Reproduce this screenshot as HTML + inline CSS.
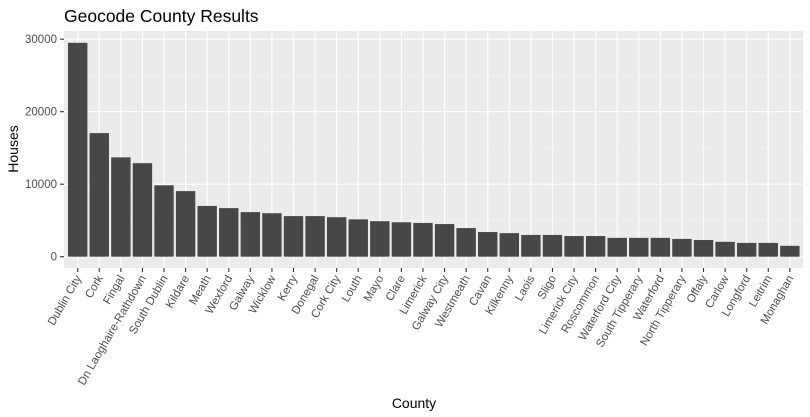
<!DOCTYPE html>
<html><head><meta charset="utf-8"><style>
body{margin:0;background:#fff;}
svg{display:block;font-family:"Liberation Sans",Arial,sans-serif;}
</style></head><body>
<svg id="s" width="810" height="417" viewBox="0 0 810 417" xmlns="http://www.w3.org/2000/svg">
<rect x="0" y="0" width="810" height="417" fill="#fff"/>
<text x="64" y="22" font-size="17.5" fill="#000">Geocode County Results</text>
<rect x="64" y="31" width="739" height="237" fill="#ebebeb"/>
<g id="grid"></g>
<g id="bars"></g>
<g id="axes"></g>
<text x="414" y="408" font-size="14" text-anchor="middle" fill="#000">County</text>
<text transform="translate(18,149) rotate(-90)" font-size="14" text-anchor="middle" fill="#000">Houses</text>
</svg>
<script>
var d=[["Dublin City",29500],["Cork",17050],["Fingal",13700],["Dn Laoghaire-Rathdown",12900],["South Dublin",9850],["Kildare",9050],["Meath",7000],["Wexford",6700],["Galway",6150],["Wicklow",6000],["Kerry",5600],["Donegal",5600],["Cork City",5450],["Louth",5150],["Mayo",4900],["Clare",4750],["Limerick",4650],["Galway City",4500],["Westmeath",3950],["Cavan",3400],["Kilkenny",3250],["Laois",3000],["Sligo",3000],["Limerick City",2850],["Roscommon",2850],["Waterford City",2600],["South Tipperary",2600],["Waterford",2600],["North Tipperary",2450],["Offaly",2300],["Carlow",2050],["Longford",1900],["Leitrim",1900],["Monaghan",1500]];
var NS="http://www.w3.org/2000/svg";
function el(p,t,a,txt){var e=document.createElementNS(NS,t);for(var k in a)e.setAttribute(k,a[k]);if(txt)e.textContent=txt;document.getElementById(p).appendChild(e);return e;}
var y0=256.7,k=0.00725,x0=77.7,dx=21.58,bw=19.4;
function Y(v){return y0-v*k;}
for(var v=5000;v<=30000;v+=10000)el("grid","line",{x1:64,x2:803,y1:Y(v),y2:Y(v),stroke:"#f5f5f5","stroke-width":0.7});
for(var v=0;v<=30000;v+=10000){el("grid","line",{x1:64,x2:803,y1:Y(v),y2:Y(v),stroke:"#fff","stroke-width":1.2});
el("axes","line",{x1:60,x2:64,y1:Y(v),y2:Y(v),stroke:"#333","stroke-width":1.1});
el("axes","text",{x:57,y:Y(v)+4,"font-size":11.5,"text-anchor":"end",fill:"#4d4d4d"},String(v));}
d.forEach(function(r,i){var x=x0+i*dx;
el("grid","line",{x1:x,x2:x,y1:31,y2:268,stroke:"#fff","stroke-width":1.2});
el("bars","rect",{x:x-bw/2,y:Y(r[1]),width:bw,height:r[1]*k,fill:"#474747"});
el("axes","line",{x1:x,x2:x,y1:268,y2:272,stroke:"#333","stroke-width":1.1});
el("axes","text",{transform:"translate("+(x+4)+",278) rotate(-60)","font-size":11.5,"text-anchor":"end",fill:"#4d4d4d"},r[0]);});
</script>
</body></html>
